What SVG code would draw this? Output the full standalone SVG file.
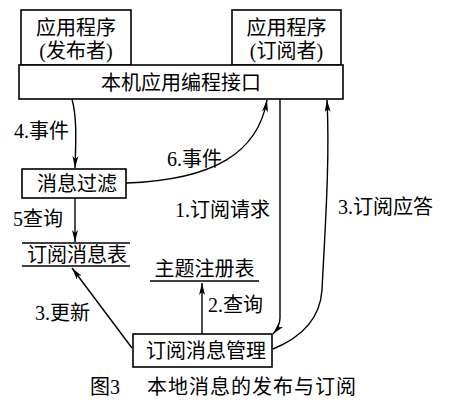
<svg xmlns="http://www.w3.org/2000/svg" width="451" height="406" viewBox="0 0 451 406">
<defs>
<style>
.box{fill:#fff;stroke:#000;stroke-width:1.6}
.t{font-family:"Liberation Serif","Noto Sans CJK SC",serif;font-size:20px;fill:#000;text-anchor:middle;dominant-baseline:central}
.l{font-family:"Liberation Serif","Noto Sans CJK SC",serif;font-size:20px;fill:#000;dominant-baseline:central}
.c{fill:none;stroke:#000;stroke-width:1.4}
.tbl{stroke:#000;stroke-width:1.4}
</style>
<marker id="ah" viewBox="0 0 12 6" refX="12" refY="3" markerWidth="12" markerHeight="6" markerUnits="userSpaceOnUse" orient="auto">
<path d="M0,0 L12,3 L0,6 L3,3 Z" fill="#000"/>
</marker>
</defs>
<rect width="451" height="406" fill="#fff"/>
<g id="connectors">
<path class="c" d="M72,99 C77,118 76,140 75,168" marker-end="url(#ah)"/>
<path class="c" d="M126,183 C215,180 258,152 267,100" marker-end="url(#ah)"/>
<path class="c" d="M280,99 L280,318 Q280,326 273,334" marker-end="url(#ah)"/>
<path class="c" d="M273,349 C300,338 320,320 322,290 C325,230 330,160 327,100" marker-end="url(#ah)"/>
<path class="c" d="M75,198 L75,242" marker-end="url(#ah)"/>
<path class="c" d="M202,334 L202,283" marker-end="url(#ah)"/>
<path class="c" d="M132,348 L72,268" marker-end="url(#ah)"/>
</g>
<g id="pub">
<rect class="box" x="21" y="10" width="110" height="55"/>
<text class="t" x="76" y="28">应用程序</text>
<text class="t" x="76" y="51">(发布者)</text>
</g>
<g id="sub">
<rect class="box" x="232" y="10" width="109" height="55"/>
<text class="t" x="286.500" y="28">应用程序</text>
<text class="t" x="286.500" y="51">(订阅者)</text>
</g>
<g id="api">
<rect class="box" x="19" y="65" width="324" height="34"/>
<text class="t" x="181" y="83">本机应用编程接口</text>
</g>
<g id="filter">
<rect class="box" x="22" y="169" width="104" height="29"/>
<text class="t" x="77" y="184">消息过滤</text>
</g>
<g id="subtable">
<line class="tbl" x1="22" y1="243" x2="130" y2="243"/>
<line class="tbl" x1="22" y1="266" x2="130" y2="266"/>
<text class="t" x="77" y="255">订阅消息表</text>
</g>
<g id="topictable">
<line class="tbl" x1="150" y1="281" x2="259" y2="281"/>
<text class="t" x="204.500" y="269">主题注册表</text>
</g>
<g id="manager">
<rect class="box" x="133" y="334" width="139" height="33"/>
<text class="t" x="206" y="351">订阅消息管理</text>
</g>
<g id="labels">
<text class="l" x="14" y="131">4.事件</text>
<text class="l" x="167" y="159">6.事件</text>
<text class="l" x="175" y="210">1.订阅请求</text>
<text class="l" x="338" y="207">3.订阅应答</text>
<text class="l" x="13" y="219">5查询</text>
<text class="l" x="208" y="305">2.查询</text>
<text class="l" x="35" y="313">3.更新</text>
</g>
<g id="caption">
<text class="l" x="90" y="387">图3</text>
<text class="l" x="147" y="387" style="letter-spacing:1px">本地消息的发布与订阅</text>
</g>
</svg>
